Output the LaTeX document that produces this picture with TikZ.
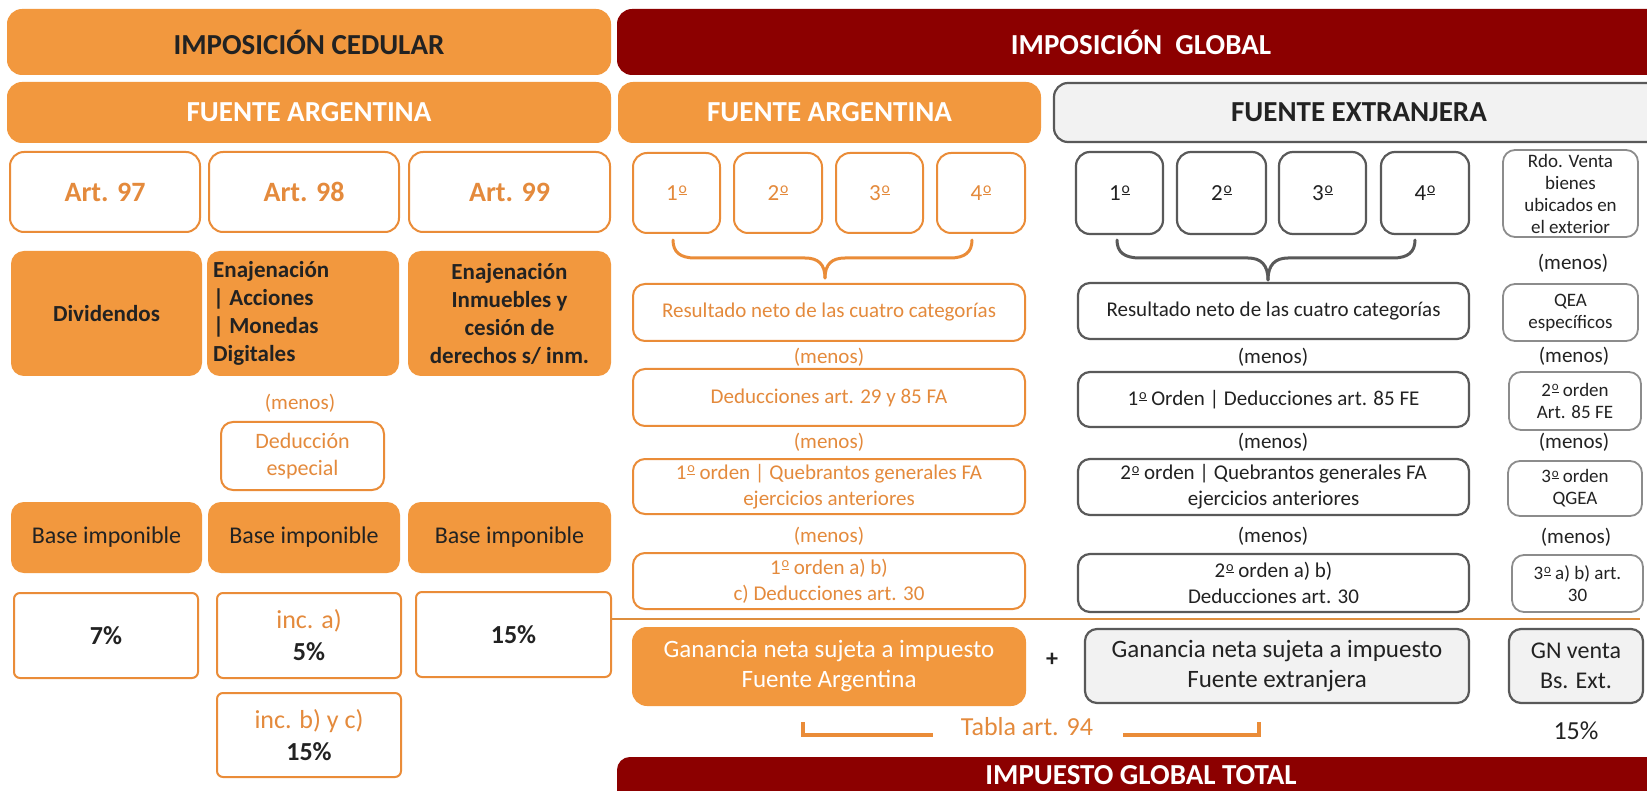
\documentclass[tikz,border=0pt]{standalone}
\usepackage{fontspec}
\setmainfont{Carlito}
\usetikzlibrary{calc}
\definecolor{org}{RGB}{242,152,62}
\definecolor{orgline}{RGB}{234,140,56}
\definecolor{orgtxt}{RGB}{228,138,60}
\definecolor{dred}{RGB}{140,0,0}
\definecolor{lgray}{RGB}{242,242,242}
\definecolor{dgray}{RGB}{89,89,89}
\definecolor{mgray}{RGB}{140,140,140}
\definecolor{txtd}{RGB}{34,34,34}
\definecolor{hln}{RGB}{222,142,62}
\newcommand\fs[2]{\fontsize{#1}{#2}\selectfont}
\newcommand\ordo{\kern0.04em\raisebox{0.3em}{\scalebox{0.68}{\underline{o}}}}
\newcommand\bx[7]{\node[#6, minimum width={#4pt-#2pt}, minimum height={#5pt-#3pt}] (#1) at ({(#2+#4)/2},{(#3+#5)/2}) {#7};}
\begin{document}
\begin{tikzpicture}[x=1pt,y=-1pt,
 bxs/.style={inner sep=0pt, outer sep=0pt, align=center, rounded corners=12pt, line width=2pt},
 ofill/.style={bxs, fill=org, draw=org},
 rfill/.style={bxs, fill=dred, draw=dred},
 obox/.style={bxs, fill=white, draw=orgline, text=orgtxt},
 gbox/.style={bxs, fill=white, draw=dgray, line width=2.2pt, text=txtd},
 sbox/.style={bxs, fill=white, draw=mgray, line width=1.8pt, text=txtd, font=\fs{19}{22}},
 gfill/.style={bxs, fill=lgray, draw=dgray, line width=2.2pt, text=txtd},
 menoso/.style={text=orgtxt, font=\fs{21}{25}, inner sep=0pt},
 menosg/.style={text=txtd, font=\fs{21}{25}, inner sep=0pt},
 brace/.style={line width=3pt, line cap=round},
 brk/.style={line width=3.5pt, draw=orgline},
]
\useasboundingbox (0,0) rectangle (1647,791);
\fill[white] (0,0) rectangle (1647,791);

% ---------------- Cedular ----------------
\bx{hc}{8}{10}{610}{74}{ofill, rounded corners=14pt, font=\fs{29}{34}\bfseries, text=txtd}{IMPOSICIÓN CEDULAR}
\bx{fal}{8}{83}{610}{142}{ofill, rounded corners=14pt, font=\fs{29}{34}\bfseries, text=white}{FUENTE ARGENTINA}
\bx{a97}{10}{152}{200}{232}{obox, rounded corners=14pt, font=\fs{28}{32}\bfseries}{Art. 97}
\bx{a98}{209}{152}{399}{232}{obox, rounded corners=14pt, font=\fs{28}{32}\bfseries}{Art. 98}
\bx{a99}{409}{152}{610}{232}{obox, rounded corners=14pt, font=\fs{28}{32}\bfseries}{Art. 99}
\bx{div}{12}{252}{201}{375}{ofill, font=\fs{23}{28}\bfseries, text=txtd}{Dividendos}
\bx{en1}{208}{252}{398}{375}{ofill}{}
\node[anchor=west, align=left, inner sep=0pt, font=\fs{23}{28}\bfseries, text=txtd] (en1t) at ([xshift=5pt]en1.west) {Enajenación\\| Acciones\\| Monedas\\Digitales};
\bx{en2}{409}{252}{610}{375}{ofill, font=\fs{23}{28}\bfseries, text=txtd}{Enajenación\\Inmuebles y\\cesión de\\derechos s/ inm.}
\node[menoso] (mnl) at (300,403) {(menos)};
\bx{dedesp}{221}{422}{384}{490}{obox, font=\fs{22}{27}}{Deducción\\especial}
\bx{bi1}{12}{503}{201}{572}{ofill, font=\fs{24}{28}, text=txtd}{Base imponible}
\bx{bi2}{209}{503}{399}{572}{ofill, font=\fs{24}{28}, text=txtd}{Base imponible}
\bx{bi3}{409}{503}{610}{572}{ofill, font=\fs{24}{28}, text=txtd}{Base imponible}
\bx{p7}{14}{593}{198}{678}{obox, rounded corners=6pt, font=\fs{26}{32}\bfseries, text=txtd}{7\%}
\bx{pa}{217}{593}{401}{678}{obox, rounded corners=6pt, font=\fs{26}{32}}{inc. a)\\{\bfseries\textcolor{txtd}{5\%}}}
\bx{p15}{416}{592}{611}{677}{obox, rounded corners=6pt, font=\fs{26}{32}\bfseries, text=txtd}{15\%}
\bx{pb}{217}{693}{401}{777}{obox, rounded corners=6pt, font=\fs{26}{32}}{inc. b) y c)\\{\bfseries\textcolor{txtd}{15\%}}}

% ---------------- Global ----------------
\bx{hg}{618}{10}{1664}{74}{rfill, rounded corners=14pt, font=\fs{29}{34}\bfseries, text=white}{IMPOSICIÓN~~GLOBAL}
\bx{fam}{619}{83}{1040}{142}{ofill, rounded corners=14pt, font=\fs{29}{34}\bfseries, text=white}{FUENTE ARGENTINA}
\bx{fe}{1054}{83}{1664}{142}{gfill, rounded corners=14pt, font=\fs{29}{34}\bfseries}{FUENTE EXTRANJERA}

% Fuente argentina (global)
\bx{m1}{633}{153}{720}{233}{obox, rounded corners=14pt, font=\fs{23}{28}}{1\ordo}
\bx{m2}{734}{153}{822}{233}{obox, rounded corners=14pt, font=\fs{23}{28}}{2\ordo}
\bx{m3}{836}{153}{923}{233}{obox, rounded corners=14pt, font=\fs{23}{28}}{3\ordo}
\bx{m4}{937}{153}{1025}{233}{obox, rounded corners=14pt, font=\fs{23}{28}}{4\ordo}
\draw[brace, draw=orgline] (673,240) .. controls (673,252) and (680,258) .. (695,258) -- (805,258) .. controls (818,258) and (825,264) .. (825,278);
\draw[brace, draw=orgline] (825,278) .. controls (825,264) and (832,258) .. (845,258) -- (950,258) .. controls (965,258) and (972,252) .. (972,240);
\bx{mres}{633}{284}{1025}{341}{obox, font=\fs{21}{26}}{Resultado neto de las cuatro categorías}
\node[menoso] (mn1) at (829,357) {(menos)};
\bx{mded}{633}{369}{1025}{426}{obox, font=\fs{21}{26}}{Deducciones art. 29 y 85 FA}
\node[menoso] (mn2) at (829,442) {(menos)};
\bx{mque}{633}{459}{1025}{514}{obox, font=\fs{21}{26}}{1\ordo\ orden | Quebrantos generales FA\\ejercicios anteriores}
\node[menoso] (mn3) at (829,536) {(menos)};
\bx{mab}{633}{553}{1025}{609}{obox, font=\fs{21}{26}}{1\ordo\ orden a) b)\\c) Deducciones art. 30}
\coordinate (hlR) at (1640,619);
\draw[hln, line width=2.5pt] (p15.east |- hlR) -- (hlR);
\bx{mgan}{633}{628}{1025}{705}{ofill, rounded corners=14pt, font=\fs{25}{30}, text=white}{Ganancia neta sujeta a impuesto\\Fuente Argentina}
\node[font=\fs{24}{28}\bfseries, text=txtd, inner sep=0pt] (plus) at (1052,660) {+};

% Fuente extranjera
\bx{f1}{1076}{152}{1163}{234}{gbox, rounded corners=14pt, font=\fs{23}{28}}{1\ordo}
\bx{f2}{1177}{152}{1266}{234}{gbox, rounded corners=14pt, font=\fs{23}{28}}{2\ordo}
\bx{f3}{1279}{152}{1366}{234}{gbox, rounded corners=14pt, font=\fs{23}{28}}{3\ordo}
\bx{f4}{1381}{152}{1469}{234}{gbox, rounded corners=14pt, font=\fs{23}{28}}{4\ordo}
\draw[brace, draw=dgray] (1117,240) .. controls (1117,252) and (1124,258) .. (1140,258) -- (1248,258) .. controls (1261,258) and (1268,265) .. (1268,280);
\draw[brace, draw=dgray] (1268,280) .. controls (1268,265) and (1275,258) .. (1288,258) -- (1393,258) .. controls (1408,258) and (1415,252) .. (1415,240);
\bx{fres}{1078}{283}{1469}{339}{gbox, font=\fs{21}{26}}{Resultado neto de las cuatro categorías}
\node[menosg] (fn1) at (1273,357) {(menos)};
\bx{f85}{1078}{372}{1469}{427}{gbox, font=\fs{21}{26}}{1\ordo\ Orden | Deducciones art. 85 FE}
\node[menosg] (fn2) at (1273,442) {(menos)};
\bx{fque}{1078}{459}{1469}{515}{gbox, font=\fs{21}{26}}{2\ordo\ orden | Quebrantos generales FA\\ejercicios anteriores}
\node[menosg] (fn3) at (1273,536) {(menos)};
\bx{fab}{1078}{554}{1469}{612}{gbox, font=\fs{21}{26}}{2\ordo\ orden a) b)\\Deducciones art. 30}
\bx{fgan}{1085}{629}{1469}{703}{gfill, font=\fs{25}{30}}{Ganancia neta sujeta a impuesto\\Fuente extranjera}

% Bienes en el exterior
\bx{rdo}{1503}{150}{1638}{237}{sbox}{Rdo. Venta\\bienes\\ubicados en\\el exterior}
\node[menosg] (rn0) at (1573,263) {(menos)};
\bx{qea}{1503}{284}{1638}{341}{sbox}{QEA\\específicos}
\node[menosg] (rn1) at (1574,356) {(menos)};
\bx{o85}{1509}{372}{1641}{430}{sbox}{2\ordo\ orden\\Art. 85 FE}
\node[menosg] (rn2) at (1574,442) {(menos)};
\bx{qgea}{1508}{461}{1642}{516}{sbox}{3\ordo\ orden\\QGEA}
\node[menosg] (rn3) at (1576,537) {(menos)};
\bx{abart}{1512}{555}{1643}{612}{sbox}{3\ordo\ a) b) art.\\30}
\bx{gnv}{1509}{629}{1643}{703}{gfill, font=\fs{24}{30}}{GN venta\\Bs. Ext.}
\node[font=\fs{26}{30}, text=txtd, inner sep=0pt] (p15g) at (1576,731) {15\%};

% Tabla art. 94
\node[font=\fs{26}{30}, text=orgtxt, inner sep=0pt] (tab) at (1027,727) {Tabla art. 94};
\coordinate (tl1) at (803,722);
\coordinate (tl2) at (933,735);
\coordinate (tr1) at (1123,735);
\coordinate (tr2) at (1259,722);
\draw[brk] (tl1) |- (tl2);
\draw[brk] (tr1) -| (tr2);

% Impuesto global total
\bx{igt}{618}{758}{1664}{806}{rfill, rounded corners=12pt}{}
\node[font=\fs{29}{34}\bfseries, text=white, inner sep=0pt] (igtt) at (1141,775) {IMPUESTO GLOBAL TOTAL};
\end{tikzpicture}
\end{document}
